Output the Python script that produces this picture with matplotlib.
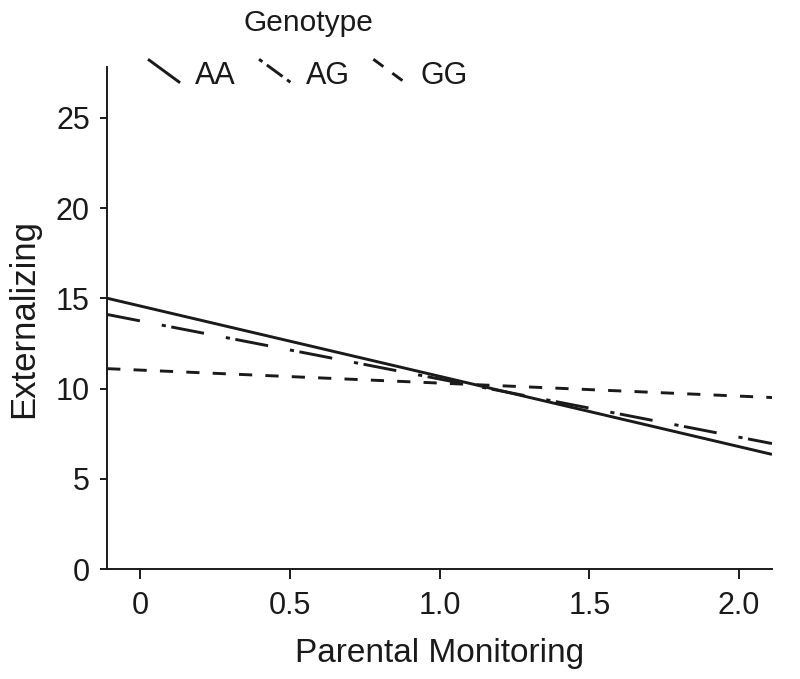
import matplotlib
matplotlib.use("Agg")
import matplotlib.pyplot as plt
from matplotlib.lines import Line2D
from matplotlib.legend_handler import HandlerLine2D

plt.rcParams['font.family'] = ['Liberation Sans', 'DejaVu Sans']
plt.rcParams['lines.scale_dashes'] = False

# simple slopes, at the two ends of the x range
x_ends = [-0.11, 2.11]
genotypes = ['AA', 'AG', 'GG']
aa = [15.0, 6.35]
ag = [14.1, 6.95]
gg = [11.1, 9.5]
x_ticks = [0, 0.5, 1.0, 1.5, 2.0]
x_ticklabels = ['0', '0.5', '1.0', '1.5', '2.0']
y_ticks = [0, 5, 10, 15, 20, 25]

ink = '#1a1a1a'
styles = {
    'AA': '-',
    'AG': (0, (24, 16, 3, 4)),
    'GG': (0, (9.5, 9.5)),
}
# the key uses shorter patterns so each glyph shows its dashes
key_styles = {
    'AA': '-',
    'AG': (0, (3, 4, 14, 4)),
    'GG': (0, (9, 8)),
}


class DiagHandler(HandlerLine2D):
    """legend handles drawn as short falling diagonals"""
    def create_artists(self, legend, orig_handle, xdescent, ydescent,
                       width, height, fontsize, trans):
        ln = Line2D([-xdescent, -xdescent + width],
                    [-ydescent + height * 1.15, -ydescent + height * 0.05])
        self.update_prop(ln, orig_handle, legend)
        ln.set_transform(trans)
        return [ln]


fig = plt.figure(figsize=(8, 6.79), dpi=100)
ax = fig.add_axes([0.134, 0.162, 0.831, 0.739])

series = {'AA': aa, 'AG': ag, 'GG': gg}
for g in genotypes:
    ax.plot(x_ends, series[g], color=ink, lw=2.1, linestyle=styles[g],
            solid_capstyle='butt', dash_capstyle='butt')

ax.set_xlim(x_ends)
ax.set_ylim(0, 27.8)
ax.set_xticks(x_ticks)
ax.set_xticklabels(x_ticklabels)
ax.set_yticks(y_ticks)
ax.spines['top'].set_visible(False)
ax.spines['right'].set_visible(False)
for s in ('left', 'bottom'):
    ax.spines[s].set_linewidth(1.4)
    ax.spines[s].set_color(ink)
ax.tick_params(direction='out', width=1.4, labelsize=22,
               color=ink, labelcolor=ink)
ax.tick_params(axis='x', length=7, pad=9)
ax.tick_params(axis='y', length=5, pad=7.5)

ax.set_xlabel('Parental Monitoring', fontsize=24, color=ink, labelpad=12)
ax.set_ylabel('Externalizing', fontsize=25, color=ink, labelpad=11)

handles = [Line2D([], [], color=ink, lw=2.1, linestyle=key_styles[g],
                  solid_capstyle='butt', dash_capstyle='butt')
           for g in genotypes]
leg = fig.legend(handles, genotypes, title='Genotype', ncol=3,
                 loc='upper left', bbox_to_anchor=(148 / 800, 1 - 9 / 679),
                 frameon=False, fontsize=22, title_fontsize=21.5,
                 borderpad=0, borderaxespad=0, labelspacing=0.78,
                 handlelength=1.05, handletextpad=0.5, columnspacing=0.75,
                 handler_map={Line2D: DiagHandler()})
for t in leg.get_texts():
    t.set_color(ink)
leg.get_title().set_color(ink)

fig.savefig('out.png', dpi=100)
